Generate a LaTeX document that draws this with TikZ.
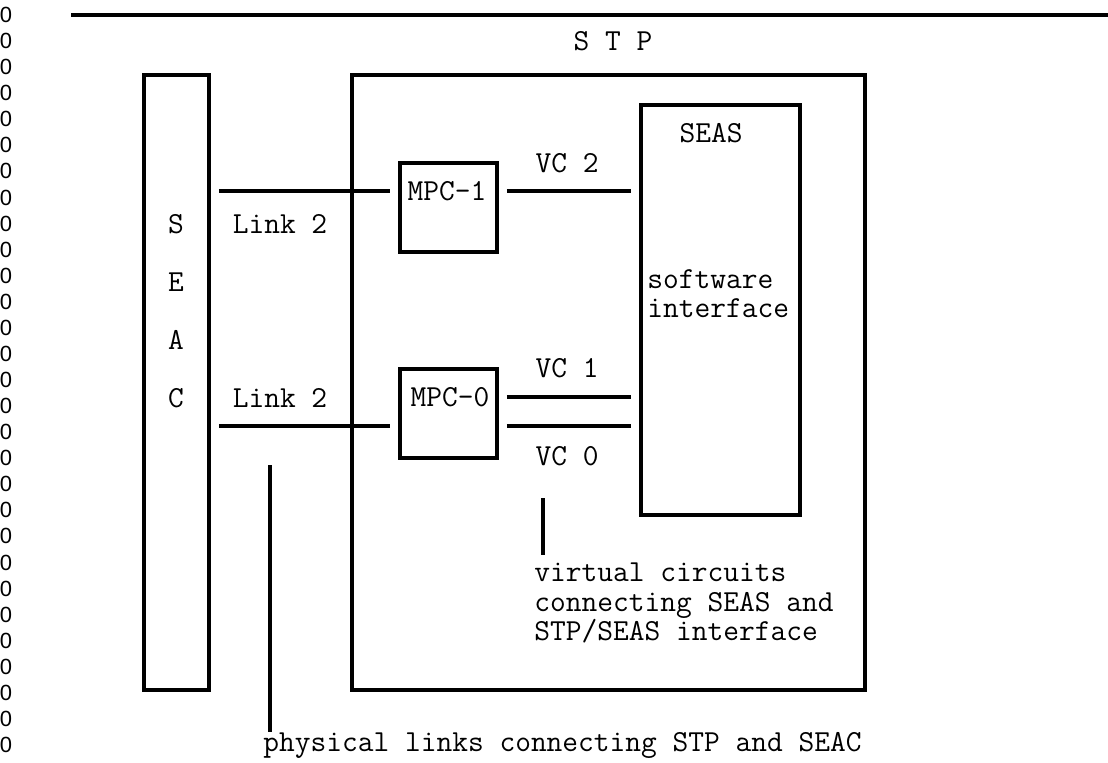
\documentclass[tikz,border=0pt]{standalone}
\usepackage{fontspec}
\usepackage{tikz}
\setmonofont{Latin Modern Mono}
\newfontfamily\zerofont{Liberation Sans}

\tikzset{
  wire/.style={line width=2.2pt, line cap=butt},
  box/.style={draw, line width=2.2pt, anchor=north west, inner sep=0pt},
  gap/.style={shorten <=0.16cm, shorten >=0.16cm},
  lbl/.style={inner sep=0pt, font=\ttfamily\fontsize{17.4}{16.6}\selectfont},
  zero/.style={inner sep=0pt, font=\zerofont\fontsize{12.5}{13}\selectfont}
}

\begin{document}
\begin{tikzpicture}[x=0.02cm, y=-0.02cm]
  \useasboundingbox (0,0) rectangle (1108,763);
  % margin column of zeros
  \foreach \i in {0,...,28}
    \node[zero] (z\i) at (6,{15+26.07*\i}) {0};
  % top rule
  \coordinate (ruleL) at (71,15);
  \coordinate (ruleR) at (1108,15);
  \draw[wire] (ruleL) -- (ruleR);

  % boxes
  \node[box, minimum width=1.30cm, minimum height=12.30cm] (seac) at (142,73) {};
  \node[box, minimum width=10.26cm, minimum height=12.30cm] (stp) at (350,73) {};
  \node[box, minimum width=1.94cm, minimum height=1.78cm] (mpc1) at (398,161) {};
  \node[box, minimum width=1.94cm, minimum height=1.78cm] (mpc0) at (398,367) {};
  \node[box, minimum width=3.18cm, minimum height=8.20cm] (seas) at (639,103) {};

  % texts
  \node[lbl] (stpname) at (613,41) {S T P};
  \node[lbl] (seacS) at (176,224) {S};
  \node[lbl] (seacE) at (176,282) {E};
  \node[lbl] (seacA) at (176,340) {A};
  \node[lbl] (seacC) at (176,398) {C};
  \node[lbl] (linkup) at (280,224) {Link 2};
  \node[lbl] (linklo) at (280,398) {Link 2};
  \node[lbl] (mpc1name) at (447,191) {MPC-1};
  \node[lbl] (mpc0name) at (450,397) {MPC-0};
  \node[lbl] (vc2) at (567,163) {VC 2};
  \node[lbl] (vc1) at (567,368) {VC 1};
  \node[lbl] (vc0) at (567,456) {VC 0};
  \node[lbl] (seasname) at (711,133) {SEAS};
  \node[lbl, anchor=west, align=left] (swif) at (647,294) {software\\interface};
  \node[lbl, anchor=west, align=left, font=\ttfamily\fontsize{17.4}{16.8}\selectfont]
    (vcnote) at (534,603) {virtual circuits\\connecting SEAS and\\STP/SEAS interface};
  \node[lbl, anchor=west] (physnote) at (263,745) {physical links connecting STP and SEAC};

  % link and circuit connectors
  \coordinate (up) at (0,191);
  \coordinate (mid) at (0,397);
  \coordinate (lo) at (0,426);
  \draw[wire, gap] (seac.east |- up) -- (mpc1.west |- up);
  \draw[wire, gap] (seac.east |- lo) -- (mpc0.west |- lo);
  \draw[wire, gap] (mpc1.east |- up) -- (seas.west |- up);
  \draw[wire, gap] (mpc0.east |- mid) -- (seas.west |- mid);
  \draw[wire, gap] (mpc0.east |- lo) -- (seas.west |- lo);

  % pointer lines to the notes
  \coordinate (vctop) at (543,498);
  \coordinate (vcfoot) at (543,555);
  \draw[wire] (vctop) -- (vcfoot);
  \coordinate (phystop) at (270,465);
  \coordinate (physfoot) at (270,732);
  \draw[wire] (phystop) -- (physfoot);
\end{tikzpicture}
\end{document}
